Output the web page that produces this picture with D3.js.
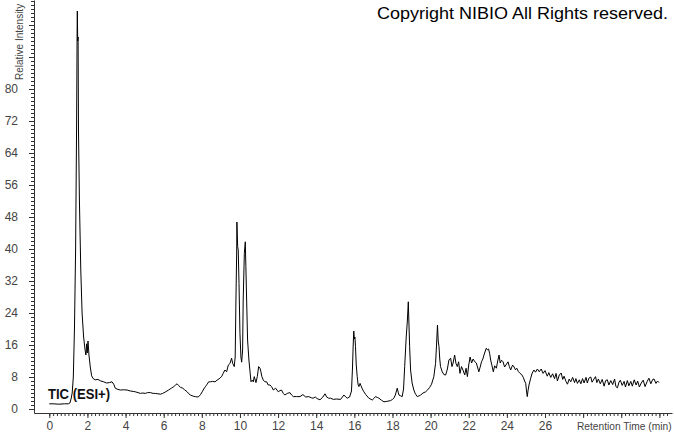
<!DOCTYPE html>
<html>
<head>
<meta charset="utf-8">
<script src="https://cdn.jsdelivr.net/npm/d3@7"></script>
<style>
  html, body { margin: 0; padding: 0; background: #fff; }
  svg { display: block; }
  text { font-family: "Liberation Sans", Arial, sans-serif; }
</style>
</head>
<body>
<svg id="chart" width="674" height="434"></svg>
<script>
// ---- Data ----
const times = [
  0.00,0.20,0.50,0.80,1.00,1.08,1.14,1.20,1.26,1.32,1.38,1.43,1.46,1.47,1.49,1.51,1.53,1.58,1.65,1.72,
  1.80,1.87,1.92,1.96,1.99,2.03,2.08,2.15,2.22,2.30,2.41,2.55,2.70,2.85,3.00,3.15,3.29,3.38,3.46,3.60,
  3.73,3.90,4.08,4.25,4.40,4.51,4.65,4.78,4.90,5.04,5.15,5.30,5.45,5.56,5.70,5.83,5.95,6.10,6.26,6.40,
  6.53,6.62,6.70,6.80,6.88,7.00,7.10,7.23,7.32,7.40,7.55,7.66,7.75,7.84,7.93,8.02,8.10,8.19,8.28,8.36,
  8.45,8.55,8.69,8.80,8.95,9.05,9.12,9.21,9.30,9.39,9.48,9.56,9.62,9.70,9.75,9.79,9.83,9.84,9.88,9.91,
  9.95,10.00,10.05,10.09,10.14,10.17,10.23,10.28,10.31,10.35,10.40,10.47,10.52,10.58,10.65,10.70,10.75,10.84,10.91,10.98,
  11.05,11.10,11.15,11.22,11.31,11.40,11.48,11.57,11.66,11.75,11.87,12.01,12.10,12.18,12.27,12.36,12.48,12.62,12.71,12.80,
  12.97,13.15,13.30,13.45,13.60,13.75,13.84,13.95,14.05,14.20,14.35,14.46,14.55,14.65,14.75,14.90,15.05,15.28,15.45,15.55,
  15.63,15.75,15.85,15.90,15.94,15.97,16.00,16.03,16.06,16.10,16.15,16.20,16.24,16.30,16.35,16.42,16.50,16.60,16.76,16.94,
  17.04,17.11,17.20,17.29,17.42,17.55,17.70,17.90,18.00,18.07,18.15,18.25,18.30,18.34,18.42,18.51,18.58,18.64,18.72,18.78,
  18.83,18.86,18.90,18.95,19.03,19.12,19.20,19.30,19.40,19.48,19.60,19.74,19.85,19.95,20.05,20.17,20.22,20.26,20.31,20.36,
  20.40,20.44,20.48,20.52,20.61,20.70,20.79,20.88,20.96,21.05,21.12,21.18,21.26,21.33,21.40,21.47,21.54,21.62,21.70,21.79,
  21.86,21.93,22.00,22.07,22.15,22.23,22.32,22.40,22.53,22.60,22.67,22.74,22.80,22.87,22.92,22.98,23.04,23.10,23.15,23.22,
  23.29,23.36,23.45,23.52,23.59,23.65,23.72,23.80,23.88,23.95,24.06,24.13,24.20,24.30,24.38,24.45,24.52,24.60,24.69,24.78,
  24.87,24.93,24.99,25.03,25.07,25.11,25.16,25.25,25.33,25.42,25.50,25.60,25.70,25.80,25.90,26.00,26.12,26.20,26.30,26.40,
  26.50,26.58,26.65,26.75,26.85,26.93,27.00,27.10,27.18,27.27,27.35,27.45,27.55,27.62,27.70,27.80,27.88,27.97,28.05,28.15,
  28.22,28.30,28.40,28.47,28.57,28.65,28.72,28.80,28.90,29.00,29.10,29.18,29.27,29.35,29.45,29.55,29.65,29.72,29.80,29.88,
  29.95,30.05,30.15,30.22,30.32,30.40,30.50,30.58,30.68,30.78,30.86,30.95,31.05,31.15,31.25,31.35,31.45,31.55,31.65,31.72,
  31.82,31.90,31.98
];
const intensity = [
  1.3,1.3,1.2,1.3,1.3,1.5,2.5,4,8,20,40,70,95,99.5,92,93,70,52,35,24,
  18,15,13.5,16.3,14,17,13.5,10.5,8.3,7.6,7.3,7.4,7.0,6.8,6.5,6.6,6.8,6.2,5.2,4.9,
  4.75,4.8,4.75,4.5,4.4,4.3,4.1,3.9,4.0,3.9,4.1,4.1,3.9,3.9,3.8,3.7,3.9,4.3,4.75,5.2,
  5.6,6.0,6.3,5.8,5.4,5.2,4.8,4.3,3.8,3.5,3.2,3.1,3.0,3.1,3.6,4.3,5.0,5.6,6.2,6.8,
  6.8,6.9,6.8,7.2,7.7,8.2,8.9,9.75,9.3,11,11.4,12.7,11.4,10.6,13,27.25,39.75,46.75,40.6,39.75,
  31.4,18.9,13,11.7,14.75,27.25,38.9,41.8,35.6,27.25,17.25,12.25,9.75,6.8,7.25,6.8,8.1,6.6,8.1,10.6,
  10.2,9.3,8.1,7.25,6.8,6.8,6.0,6.0,5.6,4.75,5.2,4.3,4.6,4.75,3.9,3.5,3.9,4.1,3.5,3.1,
  3.1,3.1,3.6,3.0,3.1,2.8,2.7,3.0,2.6,2.3,3.0,3.8,3.0,2.7,2.7,2.4,2.5,2.4,3.5,3.0,
  2.7,3.0,4.5,10,16,19.5,17.5,18,15.6,11,8.1,6,5.6,6.4,5.8,5,4.3,3.6,2.7,2.25,
  2.7,3.1,2.9,2.7,2.2,1.8,1.9,2.1,2.4,2.7,3.5,5.2,4.2,3.5,3.3,3.1,5,10.6,18,22,
  26.8,22,15.6,9.75,6.5,4.75,3.8,3.1,3.3,3.5,4.0,4.3,4.8,5.4,6.2,8.1,10,11.4,16,21,
  17,15.6,12.5,10.6,9.3,8.6,8.5,10,12.25,12.7,10.6,11.5,13.5,11.4,10.6,11.8,8.9,10.6,9.7,8.5,
  10.2,8.1,11,13,11.5,12.5,11.8,11.5,9.3,10.5,11.8,12.5,13.5,14.5,15.2,14.8,15.0,13.8,12.25,10.8,
  9.3,10.8,10.2,12,13.5,11.5,12.2,11.8,10.5,11,11.8,10.6,9.75,11,10.5,9.8,10.2,9.4,8.9,8.6,
  7.8,7.0,6.4,4.5,3.1,4.6,6.0,7.7,9.0,9.75,9.2,10.0,9.3,10.0,8.9,9.6,8.2,9.1,7.9,8.8,
  7.6,8.9,7.0,8.5,9.0,7.4,8.2,6.9,6.2,7.5,6.8,7.9,6.6,7.6,6.4,7.3,6.3,7.6,6.5,7.9,
  6.5,7.7,8.0,6.7,7.5,8.1,6.6,7.5,6.3,7.4,5.7,7.1,7.3,6.0,7.1,6.1,7.5,5.6,5.3,6.7,
  7.2,5.9,6.9,5.5,7.1,5.8,6.9,5.7,7.3,6.0,7.0,5.5,6.5,7.2,5.6,6.8,7.7,6.3,7.4,7.5,
  6.4,7.0,6.6
];
const xTickLabels = [0,2,4,6,8,10,12,14,16,18,20,22,24,26];
const yTickLabels = [0,8,16,24,32,40,48,56,64,72,80];
const xTitle = "Retention Time (min)";
const yTitle = "Relative Intensity";
const traceLabel = "TIC (ESI+)";
const copyright = "Copyright NIBIO All Rights reserved.";

// ---- Layout ----
const svg = d3.select("#chart");
const axisX = 34, axisY = 413, rightEdge = 672;

const x = d3.scaleLinear().domain([0, 26]).range([49.3, 545]);
const y = d3.scaleLinear().domain([0, 80]).range([409, 89]);

const xFull = x.copy().domain([x.invert(axisX), x.invert(rightEdge)]).range([axisX, rightEdge]);
const yFull = y.copy().domain([y.invert(axisY), y.invert(0)]).range([axisY, 0]);

const tickColor = "#333";
const labelColor = "#444";

// X axis: minor ticks
const xMinor = d3.range(0, 163).map(i => +(i * 0.2).toFixed(2)).filter(v => v <= xFull.domain()[1]);
svg.append("g").attr("transform", `translate(0,${axisY})`)
  .call(d3.axisBottom(xFull).tickValues(xMinor).tickSize(3).tickFormat("").tickSizeOuter(0))
  .call(g => g.select(".domain").attr("stroke", tickColor))
  .call(g => g.selectAll("line").attr("stroke", tickColor));
// X axis: major ticks + labels
const xMajor = d3.range(0, 33, 2);
svg.append("g").attr("transform", `translate(0,${axisY})`)
  .call(d3.axisBottom(xFull).tickValues(xMajor).tickSize(5).tickPadding(3)
        .tickFormat(d => xTickLabels.includes(d) ? d : "").tickSizeOuter(0))
  .call(g => g.select(".domain").remove())
  .call(g => g.selectAll("line").attr("stroke", tickColor))
  .call(g => g.selectAll("text").attr("fill", labelColor)
        .style("font-size", "12px").style("font-family", '"Liberation Sans", Arial, sans-serif'));

// Y axis: minor ticks
const yMinor = d3.range(0, 103, 1);
svg.append("g").attr("transform", `translate(${axisX},0)`)
  .call(d3.axisLeft(yFull).tickValues(yMinor).tickSize(3).tickFormat("").tickSizeOuter(0))
  .call(g => g.select(".domain").attr("stroke", tickColor))
  .call(g => g.selectAll("line").attr("stroke", tickColor));
// Y axis: major ticks + labels
const yMajor = d3.range(0, 103, 8);
svg.append("g").attr("transform", `translate(${axisX},0)`)
  .call(d3.axisLeft(yFull).tickValues(yMajor).tickSize(5).tickPadding(11)
        .tickFormat(d => yTickLabels.includes(d) ? d : "").tickSizeOuter(0))
  .call(g => g.select(".domain").remove())
  .call(g => g.selectAll("line").attr("stroke", tickColor))
  .call(g => g.selectAll("text").attr("fill", labelColor)
        .style("font-size", "12px").style("font-family", '"Liberation Sans", Arial, sans-serif'));

// Axis titles
svg.append("text")
  .attr("x", 577).attr("y", 429.5)
  .attr("fill", labelColor).style("font-size", "10.2px")
  .text(xTitle);

svg.append("text")
  .attr("transform", "translate(23,80) rotate(-90)")
  .attr("fill", labelColor).style("font-size", "10px")
  .text(yTitle);

// Trace
const line = d3.line().x((d, i) => x(times[i])).y(d => y(d));
svg.append("path")
  .datum(intensity)
  .attr("d", line)
  .attr("fill", "none")
  .attr("stroke", "#000")
  .attr("stroke-width", 1)
  .attr("stroke-linejoin", "miter");

// Trace label
svg.append("text")
  .attr("x", 48).attr("y", 399)
  .attr("textLength", 62).attr("lengthAdjust", "spacingAndGlyphs")
  .attr("fill", "#111").style("font-size", "15px").style("font-weight", "bold")
  .text(traceLabel);

// Copyright
svg.append("text")
  .attr("x", 377).attr("y", 19)
  .attr("textLength", 291).attr("lengthAdjust", "spacingAndGlyphs")
  .attr("fill", "#000").style("font-size", "17px")
  .text(copyright);
</script>
</body>
</html>
